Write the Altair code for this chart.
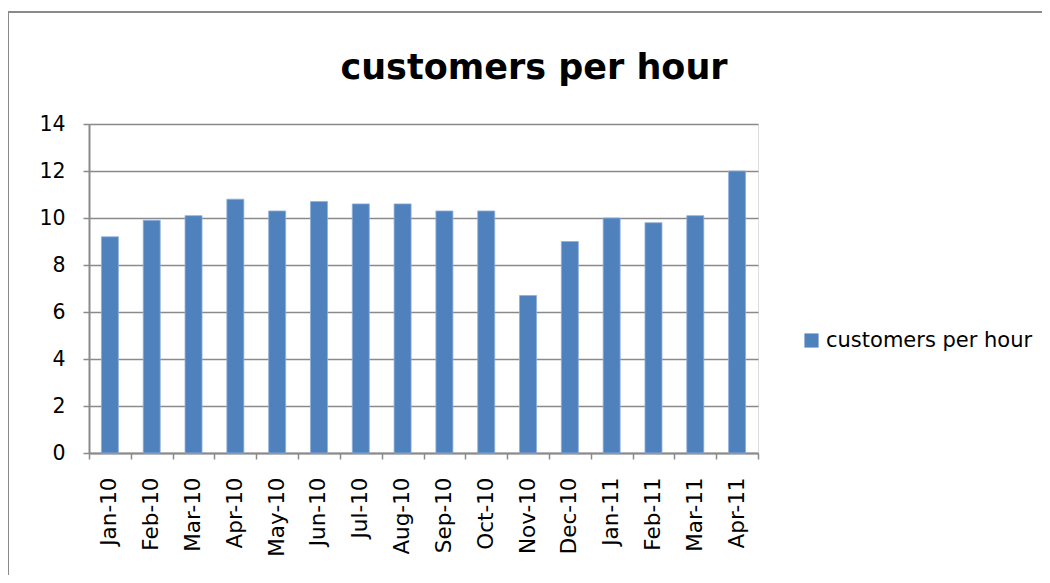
import altair as alt
import pandas as pd

months = ["Jan-10", "Feb-10", "Mar-10", "Apr-10", "May-10", "Jun-10", "Jul-10", "Aug-10",
          "Sep-10", "Oct-10", "Nov-10", "Dec-10", "Jan-11", "Feb-11", "Mar-11", "Apr-11"]
values = [9.2, 9.9, 10.1, 10.8, 10.3, 10.7, 10.6, 10.6,
          10.3, 10.3, 6.7, 9.0, 10.0, 9.8, 10.1, 12.0]
series_name = "customers per hour"
y_ticks = [0, 2, 4, 6, 8, 10, 12, 14]

df = pd.DataFrame({"month": months, "value": values, "series": series_name})

FONT = "DejaVu Sans"
GREY = "#8a8a8a"

bars = alt.Chart(df).mark_bar(size=17, color="#4F81BD", stroke="#8FAEDB", strokeWidth=0.8).encode(
    x=alt.X("month:N", sort=months, title=None,
            scale=alt.Scale(paddingInner=0, paddingOuter=0),
            axis=alt.Axis(labelAngle=270, labelFontSize=21.5, labelFont=FONT, labelColor="#000000",
                          labelPadding=18, tickBand="extent", tickSize=6, tickColor=GREY,
                          tickWidth=1.5, domainColor=GREY, domainWidth=2, grid=False)),
    y=alt.Y("value:Q", title=None,
            scale=alt.Scale(domain=[0, 14], nice=False),
            axis=alt.Axis(values=y_ticks, labelFontSize=20.5, labelFont=FONT, labelColor="#000000",
                          labelPadding=18, tickSize=6, tickColor=GREY, tickWidth=1.5,
                          domainColor=GREY, domainWidth=2, grid=True, gridColor=GREY,
                          gridWidth=1.5)),
    color=alt.Color("series:N", title=None,
                    scale=alt.Scale(range=["#4F81BD"]),
                    legend=alt.Legend(orient="none", legendX=712, legendY=206,
                                      symbolType="square", symbolSize=200,
                                      symbolStrokeWidth=0,
                                      labelFontSize=21, labelFont=FONT, labelColor="#000000",
                                      labelLimit=400, labelOffset=4)),
)

title = alt.Chart(pd.DataFrame({"t": [series_name]})).mark_text(
    font=FONT, fontSize=35, fontWeight="bold", color="#000000",
    align="center", baseline="middle").encode(
    text="t:N", x=alt.value(445), y=alt.value(-56))

border_top = alt.Chart(pd.DataFrame({"k": [0]})).mark_rule(color=GREY, strokeWidth=2).encode(
    x=alt.value(-81), x2=alt.value(961), y=alt.value(-112))
border_left = alt.Chart(pd.DataFrame({"k": [0]})).mark_rule(color=GREY, strokeWidth=2).encode(
    x=alt.value(-81), y=alt.value(-112), y2=alt.value(459))

chart = alt.layer(bars, title, border_top, border_left).properties(
    width=669, height=329,
    autosize=alt.AutoSizeParams(type="none"),
    padding={"left": 81, "top": 116, "right": 284, "bottom": 122},
).configure_view(stroke=None).configure(background="#ffffff")

chart.save("out.html", embed_options={"renderer": "svg", "actions": False})
